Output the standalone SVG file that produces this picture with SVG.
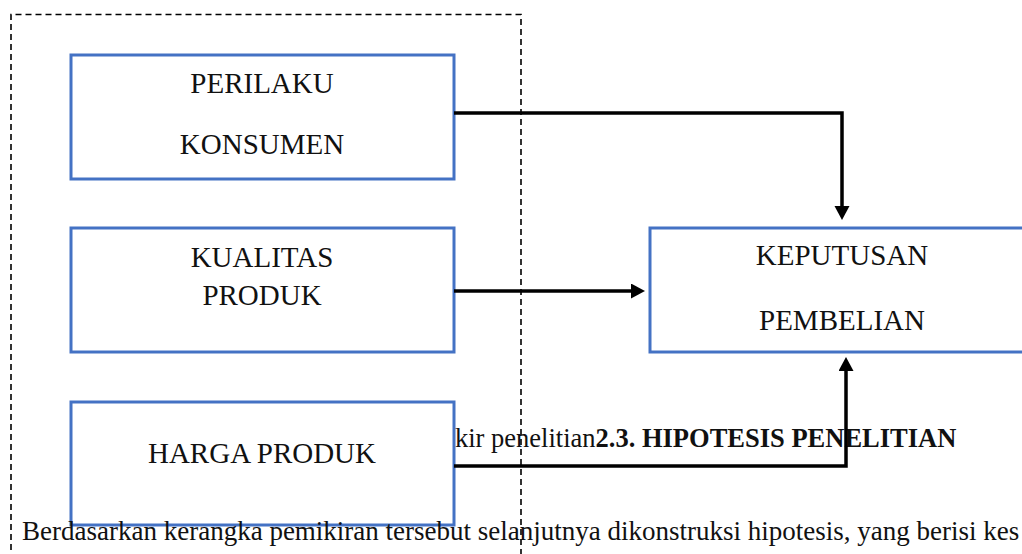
<svg xmlns="http://www.w3.org/2000/svg" width="1022" height="554" viewBox="0 0 1022 554">
  <style>
    .box { fill: #ffffff; stroke: #4472C4; stroke-width: 3; }
    .lbl { font-family: "Liberation Serif", "Times New Roman", serif; font-size: 29px; fill: #111; text-anchor: middle; }
    .conn { fill: none; stroke: #000; stroke-width: 3.5; }
    .frame { fill: none; stroke: #000; stroke-width: 1.6; stroke-dasharray: 6 4; }
    .body { font-family: "Liberation Serif", "Times New Roman", serif; font-size: 27px; fill: #111; }
    .cap { font-size: 26.5px; }
  </style>
  <defs>
    <marker id="ah" markerUnits="userSpaceOnUse" markerWidth="16" markerHeight="16" refX="0" refY="7.5" orient="auto">
      <path d="M0,0 L14,7.5 L0,15 z" fill="#000"/>
    </marker>
  </defs>
  <rect width="1022" height="554" fill="#ffffff"/>

  <path class="frame" d="M11,560 V14.5 H521 V560"/>

  <g id="perilaku-konsumen">
    <rect class="box" x="71" y="55" width="383" height="124"/>
    <text class="lbl" x="262" y="93">PERILAKU</text>
    <text class="lbl" x="262" y="154">KONSUMEN</text>
  </g>
  <g id="kualitas-produk">
    <rect class="box" x="71" y="228" width="383" height="124"/>
    <text class="lbl" x="262" y="267">KUALITAS</text>
    <text class="lbl" x="262" y="305">PRODUK</text>
  </g>
  <g id="harga-produk">
    <rect class="box" x="71" y="402" width="383" height="123"/>
    <text class="lbl" x="262" y="463">HARGA PRODUK</text>
  </g>
  <g id="keputusan-pembelian">
    <rect class="box" x="650" y="228" width="380" height="124"/>
    <text class="lbl" x="842" y="265">KEPUTUSAN</text>
    <text class="lbl" x="842" y="330">PEMBELIAN</text>
  </g>

  <g id="caption">
    <text class="body cap" x="455" y="447">kir penelitian<tspan font-weight="bold">2.3. HIPOTESIS PENELITIAN</tspan></text>
  </g>

  <g id="connectors">
    <path class="conn" d="M454,113 H842 V206" marker-end="url(#ah)"/>
    <path class="conn" d="M454,291 H631" marker-end="url(#ah)"/>
    <path class="conn" d="M454,466 H846 V371" marker-end="url(#ah)"/>
  </g>

  <text class="body" x="22" y="540">Berdasarkan kerangka pemikiran tersebut selanjutnya dikonstruksi hipotesis, yang berisi kes</text>
</svg>
